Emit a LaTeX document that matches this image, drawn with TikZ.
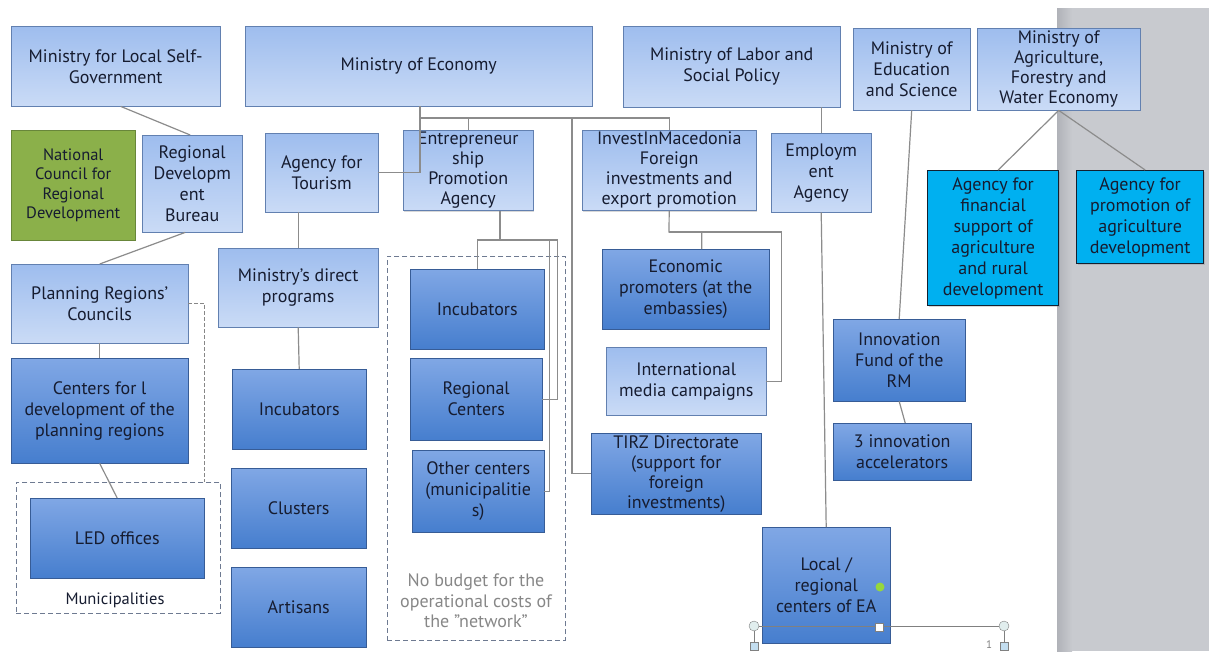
\documentclass[tikz,border=0pt]{standalone}
\usepackage{fontspec}
\setmainfont{PT Sans}
\usetikzlibrary{shapes,positioning,shadows}

\definecolor{boxtext}{RGB}{22,28,48}
\definecolor{lighttop}{RGB}{158,189,238}
\definecolor{lightbot}{RGB}{202,219,246}
\definecolor{lightline}{RGB}{98,128,176}
\definecolor{darktop}{RGB}{128,167,229}
\definecolor{darkbot}{RGB}{70,126,206}
\definecolor{darkline}{RGB}{55,92,150}
\definecolor{greenfill}{RGB}{139,176,74}
\definecolor{greenline}{RGB}{104,134,58}
\definecolor{cyanfill}{RGB}{0,176,240}
\definecolor{cyanline}{RGB}{18,32,48}
\definecolor{linkgray}{RGB}{140,140,140}
\definecolor{dashgray}{RGB}{110,122,145}
\definecolor{panelgray}{RGB}{200,202,207}
\definecolor{notegray}{RGB}{135,135,135}

\tikzstyle{block} = [rectangle, anchor=north west, align=center, inner sep=2pt,
    text=boxtext, font=\fontsize{18}{21}\selectfont,
    drop shadow={shadow xshift=1.2pt, shadow yshift=-1.2pt, opacity=0.3}]
\tikzstyle{light} = [block, draw=lightline, top color=lighttop, bottom color=lightbot]
\tikzstyle{dark} = [block, draw=darkline, top color=darktop, bottom color=darkbot]
\tikzstyle{councilbox} = [block, draw=greenline, fill=greenfill, font=\fontsize{16.5}{19.5}\selectfont]
\tikzstyle{agrobox} = [block, draw=cyanline, line width=1.3pt, fill=cyanfill]
\tikzstyle{group} = [rectangle, anchor=north west, draw=dashgray, dash pattern=on 5pt off 3pt, line width=0.9pt]
\tikzstyle{link} = [draw=linkgray, line width=1.2pt]
\tikzstyle{handle} = [circle, draw=gray, fill={rgb,255:red,225;green,238;blue,238}, minimum size=10pt, inner sep=0pt]
\tikzstyle{grip} = [rectangle, draw=gray, fill={rgb,255:red,195;green,222;blue,240}, minimum size=8pt, inner sep=0pt]

\begin{document}
\begin{tikzpicture}[x=1pt, y=-1pt]
  \useasboundingbox (0,0) rectangle (1209,651);
  \fill [white] (0,0) rectangle (1209,651);
  \fill [panelgray] (1057,8) rectangle (1209,651);
  \shade [left color={rgb,255:red,176;green,178;blue,184}, right color=panelgray] (1057,8) rectangle (1072,651);

  % ministries
  \node [light, minimum width=209pt, minimum height=80pt] (mlsg) at (11,26) {Ministry for Local Self-\\Government};
  \node [light, minimum width=347pt, minimum height=80pt] (me) at (245,26) {Ministry of Economy};
  \node [light, minimum width=217pt, minimum height=81pt] (lab) at (623,26) {Ministry of Labor and\\Social Policy};
  \node [light, minimum width=117pt, minimum height=82pt] (edu) at (853,28) {Ministry of\\Education\\and Science};
  \node [light, minimum width=163pt, minimum height=82pt, font=\fontsize{18}{20}\selectfont] (agr) at (977,28) {Ministry of\\Agriculture,\\Forestry and\\Water Economy};

  % agencies
  \node [councilbox, minimum width=124pt, minimum height=110pt] (ncrd) at (11,130) {National\\Council for\\Regional\\Development};
  \node [light, minimum width=100pt, minimum height=97pt] (rdb) at (142,135) {Regional\\Developm\\ent\\Bureau};
  \node [light, minimum width=113pt, minimum height=79pt] (tour) at (265,133) {Agency for\\Tourism};
  \node [light, minimum width=130pt, minimum height=79pt, font=\fontsize{18}{20}\selectfont] (epa) at (403,130) {Entrepreneur\\ship\\Promotion\\Agency};
  \node [light, minimum width=174pt, minimum height=79pt, font=\fontsize{18}{20}\selectfont] (iim) at (582,130) {InvestInMacedonia\\Foreign\\investments and\\export promotion};
  \node [light, minimum width=100pt, minimum height=79pt] (emp) at (771,133) {Employm\\ent\\Agency};
  \node [agrobox, minimum width=131pt, minimum height=135pt] (fin) at (927,170) {Agency for\\financial\\support of\\agriculture\\and rural\\development};
  \node [agrobox, minimum width=127pt, minimum height=93pt] (prom) at (1076,170) {Agency for\\promotion of\\agriculture\\development};

  % regions and programs
  \node [light, minimum width=177pt, minimum height=79pt] (plan) at (11,264) {Planning Regions’\\Councils};
  \node [light, minimum width=160pt, minimum height=79pt] (dir) at (218,248) {Ministry’s direct\\programs};
  \node [dark, minimum width=177pt, minimum height=105pt] (cen) at (11,358) {Centers for l\\development of the\\planning regions};
  \node [dark, minimum width=134pt, minimum height=80pt] (inc1) at (232,369) {Incubators};
  \node [dark, minimum width=135pt, minimum height=80pt] (clu) at (231,468) {Clusters};
  \node [dark, minimum width=135pt, minimum height=80pt] (art) at (231,567) {Artisans};

  \node [group, minimum width=204pt, minimum height=131pt] (muni) at (16,482) {};
  \node [dark, minimum width=174pt, minimum height=80pt] (led) at (30,498) {LED offices};
  \node [anchor=base, text=boxtext, font=\fontsize{16.5}{19}\selectfont] (munilabel) at (115,604) {Municipalities};

  % network
  \node [group, minimum width=178pt, minimum height=384pt] (net) at (387,256) {};
  \node [dark, minimum width=134pt, minimum height=80pt] (inc2) at (410,269) {Incubators};
  \node [dark, minimum width=132pt, minimum height=82pt] (reg) at (410,358) {Regional\\Centers};
  \node [dark, minimum width=132pt, minimum height=82pt] (oth) at (412,450) {Other centers\\(municipalitie\\s)};
  \node [align=center, text=notegray, font=\fontsize{18}{20.5}\selectfont] (netlabel) at (476,601) {No budget for the\\operational costs of\\the "network"};

  \node [dark, minimum width=167pt, minimum height=80pt] (econ) at (602,249) {Economic\\promoters (at the\\embassies)};
  \node [light, minimum width=160pt, minimum height=68pt] (media) at (606,347) {International\\media campaigns};
  \node [dark, minimum width=170pt, minimum height=81pt, font=\fontsize{18}{20}\selectfont] (tirz) at (591,433) {TIRZ Directorate\\(support for\\foreign\\investments)};
  \node [dark, minimum width=132pt, minimum height=82pt] (innov) at (833,319) {Innovation\\Fund of the\\RM};
  \node [dark, minimum width=138pt, minimum height=57pt] (acc) at (833,423) {3 innovation\\accelerators};
  \node [dark, minimum width=128pt, minimum height=116pt] (ea) at (762,527) {Local /\\regional\\centers of EA};

  % connectors
  \draw [link] ([xshift=5pt]mlsg.south) -- ([xshift=-2pt]rdb.north);
  \draw [link] ([xshift=-7pt]rdb.south) -- (plan.north);
  \draw [link] (plan.south) -- (cen.north);
  \draw [link] (cen.south) -- (led.north);
  \draw [draw=notegray, line width=0.9pt, dash pattern=on 4pt off 2pt] (plan.east) -| ([xshift=-16pt]muni.north east);

  \coordinate (mejoin) at (420,118);
  \coordinate (tirzbus) at (572,118);
  \draw [link] (me.south -| mejoin) -- (mejoin) |- (tour.east);
  \draw [link] (mejoin) -| (epa.north);
  \draw [link] (mejoin) -| (iim.north);
  \draw [link] (tirzbus) |- (tirz.west);

  \coordinate (epajoin) at (500,240);
  \draw [link] (epa.south -| epajoin) -- (epajoin) -| (inc2.north);
  \draw [link] (epajoin) -| ([xshift=15pt]reg.east) -- (reg.east);
  \draw [link] (epajoin) -| ([xshift=5pt]oth.east) -- (oth.east);

  \coordinate (iimjoin) at (669,232);
  \draw [link] (iim.south) -- (iimjoin) -| ([xshift=16pt]econ.north);
  \draw [link] (iimjoin) -| ([xshift=15pt]media.east) -- (media.east);

  \draw [link] (tour.south -| dir.north) -- (dir.north);
  \draw [link] (dir.south) -- (inc1.north);
  \draw [link] (lab.south -| emp.north) -- (emp.north);
  \draw [link] (emp.south) -- (ea.north);
  \draw [link] (edu.south) -- (innov.north);
  \draw [link] (innov.south) -- ([xshift=3pt]acc.north);
  \draw [link] (agr.south) -- ([xshift=5pt]fin.north);
  \draw [link] (agr.south) -- ([xshift=5pt]prom.north);

  % selection handles
  \node [handle] (hl) at (754,626) {};
  \node [handle] (hr) at (1004,626) {};
  \node [grip] (gl) at (754,646) {};
  \node [grip] (gr) at (1004,646) {};
  \draw [draw=gray, line width=0.8pt] (hl) -- (hr);
  \draw [draw=gray, line width=0.8pt] (hl) -- (gl);
  \draw [draw=gray, line width=0.8pt] (hr) -- (gr);
  \node [grip, fill=white] (gm) at (879,627) {};
  \node [circle, fill={rgb,255:red,150;green,215;blue,60}, minimum size=9pt, inner sep=0pt] (rot) at (880,587) {};
  \node [text=gray, font=\fontsize{11}{11}\selectfont] (num) at (989,645) {1};
\end{tikzpicture}
\end{document}
